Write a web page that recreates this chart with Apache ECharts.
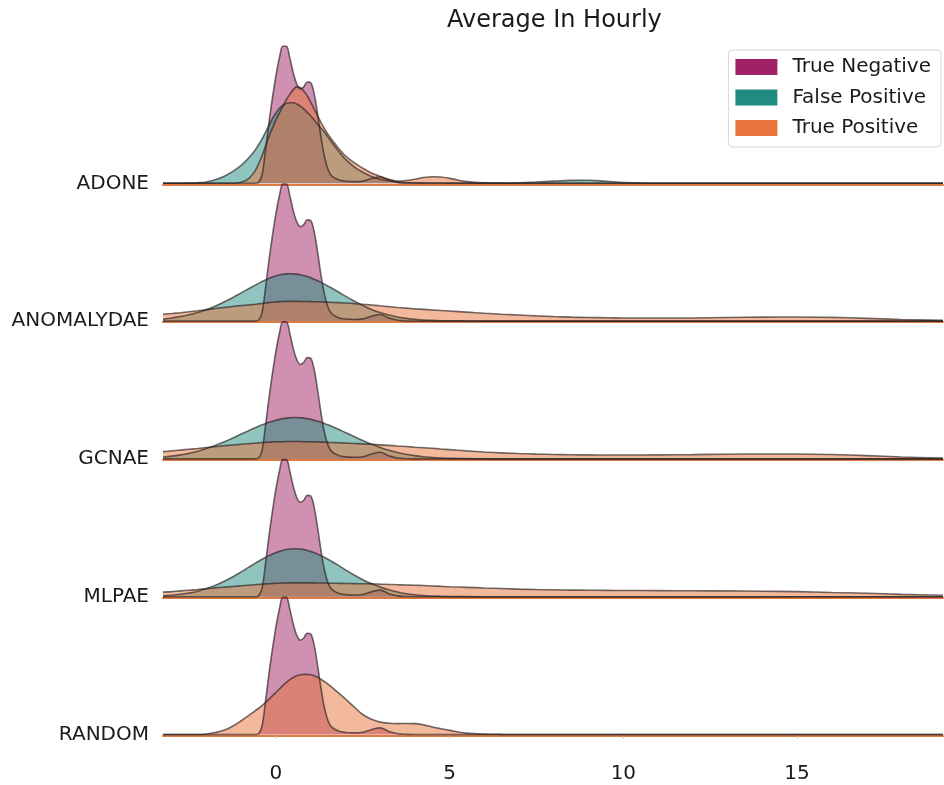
<!DOCTYPE html>
<html>
<head>
<meta charset="utf-8">
<title>Average In Hourly</title>
<script src="https://cdn.jsdelivr.net/npm/echarts@6/dist/echarts.min.js"></script>
<style>
  html, body { margin: 0; padding: 0; background: #fff; }
  #chart { width: 944px; height: 785px; }
</style>
</head>
<body>
<div id="chart"></div>
<script>
// Sample positions (hours) shared by every density curve
const xGrid = [-3.25, -3, -2.75, -2.5, -2.25, -2, -1.75, -1.5, -1.25, -1, -0.8, -0.6, -0.5, -0.4, -0.3, -0.2, -0.1, 0,
  0.1, 0.2, 0.3, 0.4, 0.5, 0.6, 0.7, 0.8, 0.9, 1.0, 1.1, 1.2, 1.3, 1.4, 1.5, 1.6, 1.8, 2.0, 2.25, 2.5, 2.75, 3.0,
  3.25, 3.5, 3.75, 4.0, 4.25, 4.5, 4.75, 5.0, 5.5, 6, 6.5, 7, 7.5, 8, 8.5, 9, 9.5, 10, 11, 12, 13, 14, 15, 16, 17, 18, 19.2];

const models = ['ADONE', 'ANOMALYDAE', 'GCNAE', 'MLPAE', 'RANDOM'];
const classNames = ['True Negative', 'False Positive', 'True Positive'];
const classColors = ['#a02264', '#228b80', '#e8743b'];
const xTicks = [0, 5, 10, 15];

// True-negative density (identical for every model)
const trueNegative = [0, 0, 0, 0, 0, 0, 0, 0, 0, 0, 0, 0, 0.006, 0.06, 0.24, 0.44, 0.62, 0.78,
  0.91, 0.995, 0.995, 0.91, 0.80, 0.72, 0.685, 0.70, 0.735, 0.73, 0.65, 0.50, 0.33, 0.19, 0.10, 0.055, 0.025, 0.015, 0.012, 0.016, 0.035, 0.048,
  0.022, 0.006, 0.001, 0, 0, 0, 0, 0, 0, 0, 0, 0, 0, 0, 0, 0, 0, 0, 0, 0, 0, 0, 0, 0, 0, 0, 0];

// ADONE
const adoneFP = [0, 0, 0, 0.001, 0.004, 0.01, 0.025, 0.05, 0.085, 0.13, 0.18, 0.24, 0.28, 0.32, 0.37, 0.42, 0.47, 0.51,
  0.545, 0.565, 0.58, 0.585, 0.585, 0.575, 0.56, 0.54, 0.515, 0.49, 0.46, 0.43, 0.40, 0.37, 0.335, 0.30, 0.235, 0.175, 0.12, 0.08, 0.05, 0.03,
  0.018, 0.01, 0.006, 0.004, 0.003, 0.002, 0.002, 0.001, 0.001, 0.001, 0.002, 0.004, 0.009, 0.016, 0.021, 0.022, 0.015, 0.006, 0, 0, 0, 0, 0, 0, 0, 0, 0];
const adoneTP = [0, 0, 0, 0, 0, 0, 0, 0, 0, 0.008, 0.03, 0.09, 0.14, 0.2, 0.27, 0.34, 0.4, 0.46,
  0.51, 0.56, 0.605, 0.645, 0.68, 0.70, 0.695, 0.67, 0.635, 0.59, 0.54, 0.49, 0.44, 0.395, 0.355, 0.32, 0.255, 0.2, 0.15, 0.11, 0.075, 0.05,
  0.03, 0.016, 0.02, 0.03, 0.042, 0.048, 0.046, 0.036, 0.012, 0.003, 0.001, 0, 0, 0, 0, 0, 0, 0, 0, 0, 0, 0, 0, 0, 0, 0, 0];

// ANOMALYDAE
const anomalydaeFP = [0.014, 0.022, 0.033, 0.046, 0.063, 0.083, 0.108, 0.138, 0.17, 0.205, 0.233, 0.26, 0.274, 0.287, 0.299, 0.31, 0.32, 0.328,
  0.335, 0.34, 0.343, 0.344, 0.343, 0.341, 0.337, 0.331, 0.323, 0.314, 0.304, 0.293, 0.281, 0.268, 0.254, 0.24, 0.211, 0.181, 0.146, 0.113, 0.085, 0.062,
  0.044, 0.03, 0.02, 0.013, 0.008, 0.005, 0.003, 0.002, 0.001, 0, 0, 0, 0, 0, 0, 0, 0, 0, 0, 0, 0, 0, 0, 0, 0, 0, 0];
const anomalydaeTP = [0.05, 0.055, 0.061, 0.068, 0.075, 0.083, 0.091, 0.099, 0.106, 0.112, 0.117, 0.122, 0.125, 0.128, 0.131, 0.134, 0.137, 0.139,
  0.141, 0.142, 0.143, 0.143, 0.143, 0.143, 0.143, 0.142, 0.142, 0.141, 0.14, 0.14, 0.139, 0.138, 0.137, 0.136, 0.134, 0.131, 0.127, 0.122, 0.117, 0.111,
  0.105, 0.099, 0.094, 0.089, 0.085, 0.081, 0.077, 0.073, 0.065, 0.057, 0.05, 0.044, 0.038, 0.033, 0.029, 0.026, 0.024, 0.023, 0.022, 0.023, 0.026, 0.029, 0.03, 0.027, 0.02, 0.012, 0.005];

// GCNAE
const gcnaeFP = [0.014, 0.02, 0.029, 0.041, 0.056, 0.075, 0.097, 0.122, 0.15, 0.18, 0.203, 0.226, 0.237, 0.247, 0.257, 0.266, 0.274, 0.281,
  0.287, 0.292, 0.296, 0.298, 0.3, 0.3, 0.298, 0.296, 0.292, 0.287, 0.281, 0.274, 0.266, 0.257, 0.247, 0.237, 0.215, 0.191, 0.162, 0.133, 0.107, 0.083,
  0.063, 0.047, 0.034, 0.024, 0.016, 0.011, 0.007, 0.004, 0.002, 0.0005, 0, 0, 0, 0, 0, 0, 0, 0, 0, 0, 0, 0, 0, 0, 0, 0, 0];
const gcnaeTP = [0.053, 0.058, 0.064, 0.07, 0.076, 0.083, 0.089, 0.095, 0.101, 0.106, 0.11, 0.114, 0.116, 0.118, 0.12, 0.121, 0.123, 0.124,
  0.125, 0.125, 0.126, 0.126, 0.126, 0.126, 0.126, 0.125, 0.125, 0.124, 0.124, 0.123, 0.122, 0.121, 0.12, 0.119, 0.117, 0.115, 0.112, 0.109, 0.106, 0.102,
  0.098, 0.094, 0.09, 0.085, 0.081, 0.077, 0.072, 0.067, 0.058, 0.05, 0.044, 0.039, 0.035, 0.032, 0.03, 0.029, 0.028, 0.028, 0.029, 0.031, 0.034, 0.036, 0.036, 0.032, 0.024, 0.014, 0.006];

// MLPAE
const mlpaeFP = [0.007, 0.011, 0.018, 0.027, 0.04, 0.059, 0.082, 0.11, 0.143, 0.18, 0.211, 0.242, 0.257, 0.272, 0.285, 0.298, 0.31, 0.32,
  0.329, 0.336, 0.342, 0.346, 0.348, 0.348, 0.346, 0.342, 0.336, 0.329, 0.32, 0.31, 0.298, 0.285, 0.272, 0.257, 0.227, 0.195, 0.157, 0.123, 0.095, 0.07,
  0.05, 0.034, 0.022, 0.014, 0.008, 0.005, 0.003, 0.0015, 0.0005, 0, 0, 0, 0, 0, 0, 0, 0, 0, 0, 0, 0, 0, 0, 0, 0, 0, 0];
const mlpaeTP = [0.033, 0.037, 0.042, 0.047, 0.052, 0.058, 0.064, 0.069, 0.074, 0.079, 0.083, 0.087, 0.089, 0.091, 0.093, 0.094, 0.096, 0.097,
  0.098, 0.099, 0.1, 0.1, 0.1, 0.1, 0.1, 0.1, 0.1, 0.1, 0.1, 0.099, 0.099, 0.099, 0.098, 0.098, 0.097, 0.096, 0.095, 0.094, 0.093, 0.091,
  0.089, 0.087, 0.085, 0.083, 0.081, 0.078, 0.075, 0.072, 0.068, 0.063, 0.059, 0.055, 0.052, 0.05, 0.048, 0.047, 0.046, 0.045, 0.044, 0.043, 0.042, 0.04, 0.037, 0.031, 0.025, 0.017, 0.01];

// RANDOM (no false positives)
const randomFP = null;
const randomTP = [0, 0, 0, 0, 0, 0.004, 0.014, 0.03, 0.06, 0.1, 0.135, 0.172, 0.19, 0.21, 0.232, 0.256, 0.28, 0.305,
  0.33, 0.355, 0.378, 0.398, 0.414, 0.426, 0.433, 0.436, 0.436, 0.433, 0.426, 0.415, 0.4, 0.384, 0.366, 0.346, 0.302, 0.258, 0.2, 0.145, 0.11, 0.09,
  0.082, 0.079, 0.08, 0.079, 0.07, 0.055, 0.042, 0.03, 0.01, 0.003, 0.001, 0, 0, 0, 0, 0, 0, 0, 0, 0, 0, 0, 0, 0, 0, 0, 0];

const densities = [
  [trueNegative, adoneFP, adoneTP],
  [trueNegative, anomalydaeFP, anomalydaeTP],
  [trueNegative, gcnaeFP, gcnaeTP],
  [trueNegative, mlpaeFP, mlpaeTP],
  [trueNegative, randomFP, randomTP]
];

const FONT = 'DejaVu Sans';
const rowTop = 45.5, rowStep = 137.8;
const xMin = -3.25, xMax = 19.2;

const grids = [], xAxes = [], yAxes = [], series = [];
models.forEach((name, i) => {
  grids.push({ left: 163, right: 1, top: rowTop + i * rowStep, height: rowStep });
  xAxes.push({
    type: 'value', gridIndex: i, min: xMin, max: xMax,
    axisLine: { show: true, onZero: false, lineStyle: { color: '#e07a45', width: 2 } },
    offset: 1,
    axisTick: { show: false }, axisLabel: { show: false }, splitLine: { show: false }
  });
  yAxes.push({
    type: 'value', gridIndex: i, min: 0, max: 1, interval: 1,
    axisLine: { show: false }, axisTick: { show: false }, splitLine: { show: false },
    axisLabel: {
      margin: 14, fontFamily: FONT, fontSize: 20, color: '#1a1a1a',
      formatter: v => (v === 0 ? name : '')
    }
  });
  densities[i].forEach((vals, k) => {
    if (!vals) return;
    series.push({
      name: classNames[k], type: 'line', xAxisIndex: i, yAxisIndex: i,
      data: xGrid.map((x, j) => [x, vals[j]]),
      smooth: 0.35, showSymbol: false, clip: false, silent: true,
      itemStyle: { color: classColors[k] },
      lineStyle: { color: 'rgba(40,30,30,0.65)', width: 1.6 },
      areaStyle: { color: classColors[k], opacity: 0.5 }
    });
  });
});

// Tick marks and labels under the last row
const last = models.length - 1;
xAxes.push({
  type: 'value', gridIndex: last, min: xMin, max: xMax, position: 'bottom', offset: 22,
  axisLine: { show: false },
  axisTick: { show: true, length: 4, customValues: xTicks, lineStyle: { color: '#bbb', width: 1 } },
  axisLabel: { show: true, customValues: xTicks, margin: 7, fontFamily: FONT, fontSize: 20, color: '#1a1a1a' },
  splitLine: { show: false }
});

const chart = echarts.init(document.getElementById('chart'), null, { renderer: 'canvas' });
chart.setOption({
  backgroundColor: '#fff',
  animation: false,
  title: {
    text: 'Average In Hourly', left: 447, top: 9, padding: 0,
    textStyle: { fontFamily: FONT, fontSize: 24, fontWeight: 'normal', color: '#1a1a1a' }
  },
  legend: {
    orient: 'vertical', right: 3, top: 50,
    data: classNames.map((n, k) => ({ name: n, icon: 'rect', itemStyle: { color: classColors[k], opacity: 1 } })),
    itemWidth: 42, itemHeight: 16, itemGap: 10.5,
    padding: [7, 10, 9, 7],
    backgroundColor: 'rgba(255,255,255,0.85)', borderColor: '#d6d6d6', borderWidth: 1, borderRadius: 4,
    textStyle: { fontFamily: FONT, fontSize: 20, lineHeight: 20, color: '#1a1a1a', padding: [0, 0, 0, 10] }
  },
  grid: grids,
  xAxis: xAxes,
  yAxis: yAxes,
  series: series
});
</script>
</body>
</html>
